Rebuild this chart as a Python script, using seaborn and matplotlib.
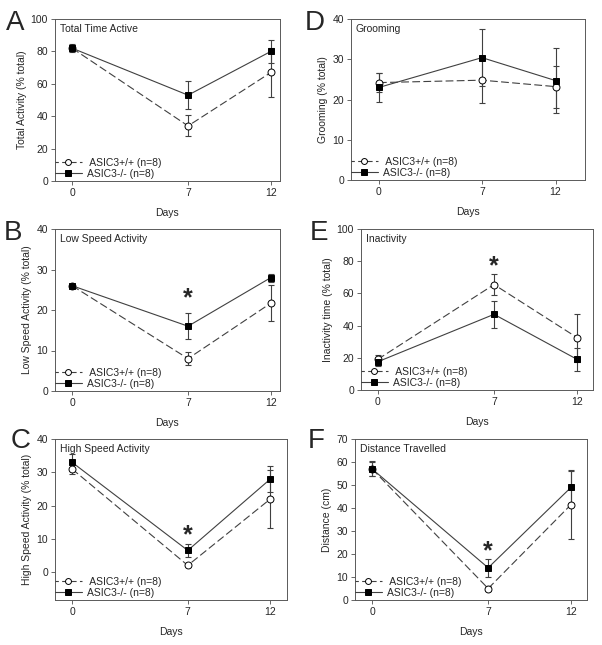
import numpy as np
import pandas as pd
import matplotlib
matplotlib.use("Agg")
import matplotlib.pyplot as plt
import seaborn as sns

sns.set_style("ticks")
plt.rcParams['font.family'] = ['Liberation Sans', 'DejaVu Sans']

days = [0, 7, 12]
wt_label = " ASIC3+/+ (n=8)"
ko_label = "ASIC3-/- (n=8)"

# Panel data (mean, error)
A_wt = [82, 34, 67];      A_wt_err = [2.0, 6.5, 15.0]
A_ko = [82, 53, 80];      A_ko_err = [2.5, 8.5, 7.0]
B_wt = [26, 8, 21.7];     B_wt_err = [0.5, 1.7, 4.5]
B_ko = [26, 16, 28];      B_ko_err = [0.4, 3.2, 1.0]
C_wt = [31, 2, 22];       C_wt_err = [1.5, 0.5, 8.7]
C_ko = [33, 6.5, 28];     C_ko_err = [2.5, 2.0, 3.8]
D_wt = [24.2, 24.8, 23.2]; D_wt_err = [2.3, 5.7, 5.2]
D_ko = [23.0, 30.4, 24.7]; D_ko_err = [3.5, 7.0, 8.0]
E_wt = [19, 65.5, 32.5];  E_wt_err = [2.5, 6.5, 15.0]
E_ko = [17.5, 47, 19];    E_ko_err = [2.5, 8.5, 7.0]
F_wt = [57, 5, 41.5];     F_wt_err = [3.0, 1.0, 15.0]
F_ko = [57, 14, 49];      F_ko_err = [3.3, 4.0, 7.0]

titles = {"A": "Total Time Active", "B": "Low Speed Activity", "C": "High Speed Activity",
          "D": "Grooming", "E": "Inactivity", "F": "Distance Travelled"}
ylabels = {"A": "Total Activity (% total)", "B": "Low Speed Activity (% total)",
           "C": "High Speed Activity (% total)", "D": "Grooming (% total)",
           "E": "Inactivity time (% total)", "F": "Distance (cm)"}
star_y = {"B": 23, "C": 11, "E": 77, "F": 21}

W, H = 602, 645
fig = plt.figure(figsize=(W / 100, H / 100), dpi=100)

def rect(l, r, t, b):
    return [l / W, 1 - b / H, (r - l) / W, (b - t) / H]

panels = {
    "A": dict(rect=rect(55, 280, 19, 181), xlim=(-1.03, 12.55), ylim=(0, 100), yt=np.arange(0, 101, 20),
              wt=A_wt, wte=A_wt_err, ko=A_ko, koe=A_ko_err, letter=(6, 30)),
    "B": dict(rect=rect(55, 280, 229, 391), xlim=(-1.03, 12.55), ylim=(0, 40), yt=np.arange(0, 41, 10),
              wt=B_wt, wte=B_wt_err, ko=B_ko, koe=B_ko_err, letter=(4, 240)),
    "C": dict(rect=rect(55, 287, 439, 600), xlim=(-1.03, 13.0), ylim=(-8.4, 40), yt=np.arange(0, 41, 10),
              wt=C_wt, wte=C_wt_err, ko=C_ko, koe=C_ko_err, letter=(11, 448)),
    "D": dict(rect=rect(351, 585, 19, 180), xlim=(-1.9, 14.0), ylim=(0, 40), yt=np.arange(0, 41, 10),
              wt=D_wt, wte=D_wt_err, ko=D_ko, koe=D_ko_err, letter=(305, 30)),
    "E": dict(rect=rect(361, 593, 229, 390), xlim=(-1.0, 12.95), ylim=(0, 100), yt=np.arange(0, 101, 20),
              wt=E_wt, wte=E_wt_err, ko=E_ko, koe=E_ko_err, letter=(310, 240)),
    "F": dict(rect=rect(355, 587, 439, 600), xlim=(-1.03, 12.96), ylim=(0, 70), yt=np.arange(0, 71, 10),
              wt=F_wt, wte=F_wt_err, ko=F_ko, koe=F_ko_err, letter=(308, 448)),
}

lc = "0.25"
fs = 7.5
for key, p in panels.items():
    ax = fig.add_axes(p["rect"])
    df_wt = pd.DataFrame({"day": days, "val": p["wt"]})
    df_ko = pd.DataFrame({"day": days, "val": p["ko"]})
    ax.errorbar(days, p["wt"], yerr=p["wte"], fmt="none", ecolor=lc, elinewidth=0.8, capsize=2.5, capthick=0.8, zorder=1)
    ax.errorbar(days, p["ko"], yerr=p["koe"], fmt="none", ecolor=lc, elinewidth=0.8, capsize=2.5, capthick=0.8, zorder=1)
    sns.lineplot(data=df_wt, x="day", y="val", ax=ax, color=lc, linewidth=0.8,
                 linestyle=(0, (7, 3)), marker="o", markersize=5, markerfacecolor="white",
                 markeredgecolor="black", markeredgewidth=0.7, label=wt_label, zorder=3)
    sns.lineplot(data=df_ko, x="day", y="val", ax=ax, color=lc, linewidth=0.8,
                 marker="s", markersize=5, markerfacecolor="black",
                 markeredgecolor="black", markeredgewidth=0.7, label=ko_label, zorder=4)
    ax.set_xlim(*p["xlim"])
    ax.set_ylim(*p["ylim"])
    ax.set_xticks(days)
    ax.set_yticks(p["yt"])
    ax.tick_params(labelsize=fs, length=3, width=0.6, color="0.3", pad=2)
    for s in ax.spines.values():
        s.set_visible(True)
        s.set_linewidth(0.7)
        s.set_color("0.35")
    ax.set_xlabel("Days", fontsize=fs, labelpad=7)
    ax.set_ylabel(ylabels[key], fontsize=fs, labelpad=3)
    ax.text(0.02, 0.97, titles[key], transform=ax.transAxes, fontsize=fs, va="top", ha="left")
    if key in star_y:
        ax.text(7, star_y[key], "*", fontsize=18, fontweight="bold", ha="center", va="center")
    leg = ax.legend(loc="lower left", bbox_to_anchor=(-0.01, 0.0), frameon=False, fontsize=fs,
                    handlelength=2.6, markerscale=0.85,
                    borderaxespad=0.1, borderpad=0.1, labelspacing=0.1, handletextpad=0.5)
    leg.get_lines()[0].set_linestyle((2, (5, 3)))
    lx, ly = p["letter"]
    fig.text(lx / W, 1 - ly / H, key, fontsize=20, ha="left", va="baseline")

fig.savefig("out.png", dpi=100)
